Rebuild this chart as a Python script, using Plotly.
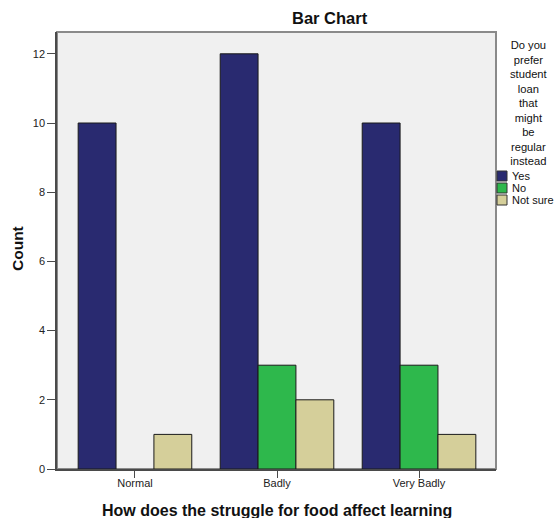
import plotly.graph_objects as go

categories = ["Normal", "Badly", "Very Badly"]
series_names = ["Yes", "No", "Not sure"]
yes_values = [10, 12, 10]
no_values = [0, 3, 3]
notsure_values = [1, 2, 1]
series_colors = ["#292A70", "#2EB84C", "#D5CF9A"]
y_ticks = [0, 2, 4, 6, 8, 10, 12]

x_title = "How does the struggle for food affect learning"
y_title = "Count"
chart_title = "Bar Chart"
legend_title = "Do you<br>prefer<br>student<br>loan<br>that<br>might<br>be<br>regular<br>instead"

FONT = "Liberation Sans, Arial, sans-serif"
W, H = 557, 518
L, R, T, B = 57, 61, 32, 49
PW = W - L - R
PH = H - T - B

fig = go.Figure()
for name, vals, col in zip(series_names, [yes_values, no_values, notsure_values], series_colors):
    fig.add_trace(go.Bar(
        x=categories, y=vals, name=name,
        marker=dict(color=col, line=dict(color="#1a1a1a", width=[1 if v else 0 for v in vals])),
        showlegend=False,
    ))

def px_x(p):
    return (p - L) / PW

def px_y(p):
    return 1 - (p - T) / PH

annotations = [
    dict(text="<b>%s</b>" % chart_title, xref="paper", yref="paper", x=px_x(330), y=px_y(18),
         xanchor="center", yanchor="middle", showarrow=False,
         font=dict(family=FONT, size=16.5, color="#111")),
    dict(text=legend_title, xref="paper", yref="paper", x=px_x(529), y=px_y(37),
         xanchor="center", yanchor="top", align="center", showarrow=False,
         font=dict(family=FONT, size=11.2, color="#111")),
    dict(text="<b>%s</b>" % x_title, xref="paper", yref="paper", x=0.5, y=px_y(510),
         xanchor="center", yanchor="middle", showarrow=False,
         font=dict(family=FONT, size=16, color="#111")),
    dict(text="<b>%s</b>" % y_title, xref="paper", yref="paper", x=px_x(17), y=px_y(249),
         xanchor="center", yanchor="middle", showarrow=False, textangle=-90,
         font=dict(family=FONT, size=15.5, color="#111")),
]
shapes = [
    dict(type="rect", xref="paper", yref="paper", x0=0, x1=1, y0=0, y1=1,
         line=dict(color="#8a8a8a", width=2), layer="below"),
]
item_y = [176, 188, 200]
for name, col, cy in zip(series_names, series_colors, item_y):
    shapes.append(dict(type="rect", xref="paper", yref="paper",
                       x0=px_x(497), x1=px_x(507), y0=px_y(cy - 5), y1=px_y(cy + 5),
                       fillcolor=col, line=dict(color="#333", width=1)))
    annotations.append(dict(text=name, xref="paper", yref="paper", x=px_x(510), y=px_y(cy),
                            xanchor="left", yanchor="middle", showarrow=False,
                            font=dict(family=FONT, size=11, color="#111")))

fig.update_layout(
    width=W, height=H,
    margin=dict(l=L, r=R, t=T, b=B, pad=0),
    paper_bgcolor="white", plot_bgcolor="#F0F0F0",
    barmode="group", bargap=0.2, bargroupgap=0,
    font=dict(family=FONT, color="#222"),
    annotations=annotations, shapes=shapes,
    xaxis=dict(range=[-0.549, 2.542], showline=True, linecolor="#4a4a4a", linewidth=1.5, mirror=False,
               ticks="outside", ticklen=7, tickcolor="#4a4a4a", showgrid=False, automargin=False,
               ticklabelstandoff=-4,
               tickfont=dict(family=FONT, size=11, color="#222")),
    yaxis=dict(range=[0, 12.63], tickvals=y_ticks, showline=True, linecolor="#4a4a4a", linewidth=1.5, mirror=False,
               ticks="outside", ticklen=8, tickcolor="#4a4a4a", showgrid=False, zeroline=False, automargin=False,
               tickfont=dict(family=FONT, size=11, color="#222")),
)

fig.write_html("out.html", config={"displayModeBar": False},
               post_script="document.body.style.margin='0';document.body.style.overflow='hidden';")
